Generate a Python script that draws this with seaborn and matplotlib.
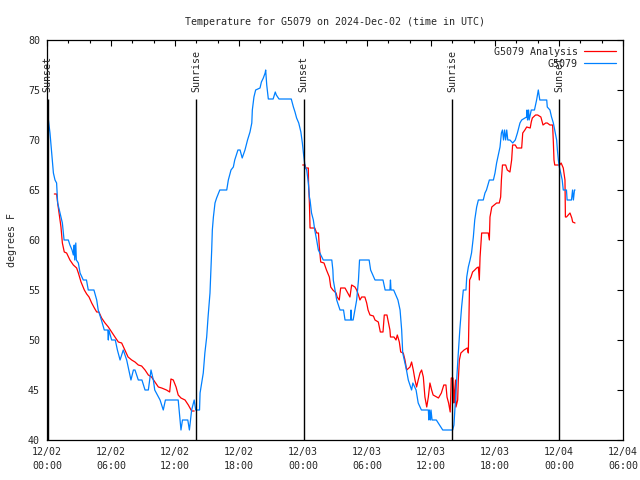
import numpy as np
import pandas as pd
import matplotlib
matplotlib.use("Agg")
import matplotlib.pyplot as plt
from matplotlib.lines import Line2D
import seaborn as sns

# heures depuis 12/02 00:00 UTC
obs_h = [0.12, 0.28, 0.44, 0.6, 0.75, 0.9, 1.0, 1.22, 1.44, 1.6, 2.0, 2.15, 2.35, 2.47, 2.55, 2.6, 2.7, 2.75,
         2.94, 3.1, 3.4, 3.7, 3.87, 4.4, 4.66, 4.8, 5.1, 5.37, 5.7, 5.75, 5.8, 6.06, 6.4, 6.6, 6.85, 7.15,
         7.47, 7.87, 8.1, 8.25, 8.56, 8.9, 9.19, 9.5, 9.75, 9.97, 10.1, 10.6, 10.9, 11.1, 12.3, 12.56, 12.7,
         13.2, 13.35, 13.56, 13.8, 13.94, 14.3, 14.35, 14.5, 14.65, 14.8, 14.97, 15.1, 15.28, 15.37, 15.44,
         15.5, 15.6, 15.75, 15.9, 16.2, 16.85, 17.0, 17.25, 17.47, 17.6, 17.9, 18.1, 18.3, 18.56, 18.8,
         19.03, 19.2, 19.25, 19.4, 19.56, 19.97, 20.1, 20.28, 20.45, 20.5, 20.6, 20.75, 21.2, 21.4, 21.5,
         21.75, 22.9, 23.1, 23.25, 23.4, 23.6, 23.8, 23.94, 24.06, 24.2, 24.35, 24.5, 24.6, 24.66, 24.8,
         24.97, 25.1, 25.28, 25.44, 25.9, 26.7, 26.8, 26.84, 27.0, 27.16, 27.47, 27.8, 27.94, 28.47, 28.5,
         28.55, 28.7, 28.87, 29.03, 29.2, 29.3, 30.2, 30.34, 30.75, 31.5, 31.7, 32.15, 32.2, 32.25, 32.5,
         32.9, 33.1, 33.25, 33.35, 33.56, 33.7, 33.87, 34.18, 34.3, 34.6, 34.8, 35.1, 35.75, 35.8, 35.85,
         35.95, 36.0, 36.1, 36.5, 37.1, 38.03, 38.15, 38.25, 38.4, 38.56, 38.7, 38.87, 39.03, 39.28, 39.35,
         39.5, 39.66, 39.8, 39.97, 40.1, 40.28, 40.44, 40.9, 41.06, 41.2, 41.47, 41.85, 42.0, 42.15, 42.47,
         42.6, 42.7, 42.8, 42.9, 43.0, 43.1, 43.2, 43.4, 43.66, 43.9, 44.1, 44.25, 44.34, 44.5, 44.96, 45.0,
         45.05, 45.15, 45.2, 45.4, 45.7, 45.9, 46.06, 46.2, 46.85, 46.9, 47.15, 47.3, 47.47, 47.6, 47.78,
         47.85, 47.94, 48.03, 48.16, 48.3, 48.4, 48.7, 48.76, 49.17, 49.27, 49.35, 49.45, 49.5]
obs_t = [72.1, 70.7, 68.7, 66.7, 66, 65.7, 63.7, 62.7, 61.7, 60, 60, 59.5, 59, 58.5, 59.5, 58, 59.7, 58,
         57.7, 56.7, 56, 56, 55, 55, 54, 53, 52, 51, 51, 50, 51, 50, 50, 49, 48, 49,
         48, 46, 47, 47, 46, 46, 45, 45, 47, 46, 45, 44, 43, 44, 44, 41, 42,
         42, 41, 43, 44, 43, 43, 44.7, 45.7, 46.7, 48.7, 50.3, 52.3, 54.7, 57, 59,
         61, 62.3, 63.7, 64.2, 65, 65, 66, 67, 67.3, 68, 69, 69, 68.2, 69, 70,
         70.8, 71.7, 73, 74.3, 75, 75.2, 75.8, 76.2, 76.7, 77, 75.5, 74.1, 74.1, 74.8, 74.5,
         74.1, 74.1, 73.3, 72.8, 72.2, 71.7, 70.8, 69.7, 68.5, 67.3, 67, 65.7, 64.3, 64, 62.7,
         62, 61, 60, 59, 58, 58, 57, 56, 55, 54, 53, 53, 52, 52, 53,
         52, 52, 53, 54, 56, 58, 58, 57, 56, 56, 55, 55, 56, 55, 55,
         54, 53, 51, 48.7, 47.7, 47, 46, 45, 45.7, 45, 43.7, 43, 43, 42, 43,
         42, 43, 42, 42, 41, 41, 41.5, 43.3, 46, 48.7, 51, 53.3, 55, 55, 56.3,
         57.3, 58, 58.7, 60.3, 62, 63.3, 64, 64, 64.7, 65, 66, 66, 66.7, 67.7, 69.3,
         70.7, 71, 70, 71, 70, 71, 70, 70, 69.7, 70, 70.7, 71.3, 71.7, 72, 72.3, 73,
         72, 73, 72, 73, 73, 74, 75, 74, 74, 73.3, 73, 72.3, 71.7, 71, 70,
         69, 68, 67.3, 66.7, 66, 65, 65, 64, 64, 65, 64, 65, 65]

ana1_h = [0.69, 0.9, 1.0, 1.13, 1.31, 1.44, 1.62, 1.84, 2.15, 2.47, 2.78, 2.94, 3.19, 3.5, 3.72, 3.94, 4.19,
          4.44, 4.66, 4.87, 5.12, 5.44, 5.75, 6.06, 6.37, 6.69, 7.0, 7.3, 7.6, 7.94, 8.25, 8.56, 8.87, 9.19,
          9.5, 9.8, 10.12, 10.44, 10.75, 11.2, 11.5, 11.62, 11.84, 12.1, 12.3, 12.56, 12.94, 13.25, 13.56, 13.8]
ana1_t = [64.6, 64.6, 63.7, 62.7, 61.3, 59.7, 58.8, 58.7, 58, 57.5, 57.2, 56.7, 55.8, 55, 54.6, 54.3, 53.7,
          53.2, 52.8, 52.8, 52.2, 51.7, 51.3, 50.8, 50.3, 49.8, 49.7, 49, 48.3, 48, 47.8, 47.5, 47.4, 47,
          46.5, 46.3, 45.8, 45.3, 45.2, 45, 44.8, 46.1, 46, 45.3, 44.5, 44.2, 44, 43.5, 42.9, 42.9]

ana2_h = [23.97, 24.2, 24.25, 24.5, 24.52, 24.6, 24.66, 25.1, 25.28, 25.45, 25.53, 25.66, 25.97, 26.2, 26.47,
          26.6, 26.8, 27.1, 27.2, 27.4, 27.53, 27.94, 28.2, 28.4, 28.56, 28.87, 29.03, 29.2, 29.34, 29.5,
          29.8, 29.97, 30.1, 30.28, 30.6, 30.75, 31.06, 31.25, 31.5, 31.62, 31.87, 32.0, 32.15, 32.2, 32.53,
          32.72, 32.84, 33.03, 33.16, 33.4, 33.56, 33.72, 34.03, 34.18, 34.34, 34.5, 34.65, 34.8, 34.97,
          35.12, 35.28, 35.43, 35.6, 35.75, 35.9, 36.06, 36.2, 36.53, 36.7, 36.97, 37.2, 37.4, 37.5, 37.65,
          37.8, 37.9, 38.06, 38.15, 38.2, 38.3, 38.34, 38.5, 38.56, 38.66, 38.8, 39.1, 39.4, 39.5, 39.56,
          39.62, 39.75, 39.9, 40.1, 40.28, 40.44, 40.53, 40.6, 40.75, 41.37, 41.47, 41.53, 41.7, 42.15,
          42.4, 42.53, 42.6, 42.7, 43.0, 43.15, 43.4, 43.56, 43.65, 43.9, 44.06, 44.5, 44.6, 44.8, 44.97,
          45.3, 45.4, 45.5, 45.8, 46.0, 46.3, 46.5, 46.75, 46.9, 47.15, 47.4, 47.47, 47.53, 47.6, 48.06,
          48.2, 48.4, 48.56, 48.6, 48.7, 48.87, 49.03, 49.2, 49.28, 49.5]
ana2_t = [67.5, 67.5, 67.2, 67.2, 65.7, 63.7, 61.2, 61.2, 60.7, 60.7, 59.3, 57.8, 57.7, 57, 56.3,
          55.3, 55, 54.7, 54.3, 54, 55.2, 55.2, 54.7, 54.3, 55.5, 55.3, 55, 54.5, 54, 54.3,
          54.3, 53.7, 53, 52.5, 52.4, 52, 51.8, 50.8, 50.8, 52.5, 52.5, 51.8, 51, 50.3, 50.3,
          50, 50.5, 49.8, 48.8, 48.7, 48, 47, 47.3, 47.8, 47, 46, 45.3, 46, 46.7,
          47, 46.3, 44.3, 43.3, 44.3, 45.7, 45, 44.5, 44.3, 44.2, 44.7, 45.5, 45.5, 44.3, 43.7,
          42.8, 46.2, 46.2, 43.7, 44.7, 46, 43.3, 44, 46, 48, 48.7, 49, 49.2, 48.7, 52.3,
          56, 56.3, 56.8, 57, 57.2, 57.3, 56, 58.3, 60.7, 60.7, 60, 62.3, 63.3, 63.7,
          63.7, 64.3, 66, 67.5, 67.5, 67, 66.8, 68, 69.5, 69.5, 69.2, 69.2, 70.7, 71, 71.3,
          71.2, 71.8, 72.2, 72.5, 72.5, 72.3, 71.5, 71.7, 71.7, 71.5, 71.5, 69.8, 68, 67.5, 67.5,
          67.7, 67.2, 66, 62.3, 62.3, 62.5, 62.7, 62.2, 61.8, 61.7]

sun_h = [0.05, 13.97, 24.08, 38.0, 48.03]
sun_lbl = ["Sunset", "Sunrise", "Sunset", "Sunrise", "Sunset"]

tick_h = list(range(0, 55, 6))
tick_lbl = ["12/02\n00:00", "12/02\n06:00", "12/02\n12:00", "12/02\n18:00", "12/03\n00:00",
            "12/03\n06:00", "12/03\n12:00", "12/03\n18:00", "12/04\n00:00", "12/04\n06:00"]

obs = pd.DataFrame({"h": obs_h, "t": obs_t})
ana = pd.DataFrame({"h": ana1_h + ana2_h, "t": ana1_t + ana2_t,
                    "seg": [1] * len(ana1_h) + [2] * len(ana2_h)})

sns.set_style("white")
plt.rcParams["font.family"] = ["DejaVu Sans Mono"]
plt.rcParams["font.size"] = 7.2

red = "#ff0000"
blue = "#0080ff"

fig = plt.figure(figsize=(6.4, 4.8), dpi=100)
ax = fig.add_axes([47 / 640, 40 / 480, 576 / 640, 400 / 480])

sns.lineplot(data=ana, x="h", y="t", units="seg", estimator=None, sort=False,
             color=red, lw=0.9, ax=ax)
sns.lineplot(data=obs, x="h", y="t", estimator=None, sort=False,
             color=blue, lw=0.9, ax=ax)

# lignes lever / coucher du soleil
for x, lbl in zip(sun_h, sun_lbl):
    ax.vlines(x, 40, 74.1, color="black", lw=1)
    ax.text(x, 74.8, lbl, rotation=90, ha="center", va="bottom", fontsize=7.2)

ax.set_xlim(0, 54)
ax.set_ylim(40, 80)
ax.set_xticks(tick_h)
ax.set_xticklabels(tick_lbl, linespacing=1.5)
ax.set_xticks(range(0, 55, 2), minor=True)
ax.set_yticks(range(40, 81, 5))
ax.tick_params(which="both", direction="in", top=True, right=True, color="black")
ax.tick_params(which="major", length=4.3, width=0.8, pad=5)
ax.tick_params(which="minor", length=2.2, width=0.8)
for s in ax.spines.values():
    s.set_color("black")
    s.set_linewidth(0.9)

ax.set_xlabel("")
ax.set_ylabel("degrees F", labelpad=8)
ax.set_title("Temperature for G5079 on 2024-Dec-02 (time in UTC)", pad=11, fontsize=7.2)

handles = [Line2D([], [], color=red, lw=0.9), Line2D([], [], color=blue, lw=0.9)]
ax.legend(handles, ["G5079 Analysis", "G5079"], loc="upper right", frameon=False,
          markerfirst=False, handlelength=3.2, handletextpad=0.6, labelspacing=0.2,
          borderaxespad=0.3, fontsize=7.2)

plt.savefig("out.png", dpi=100)
